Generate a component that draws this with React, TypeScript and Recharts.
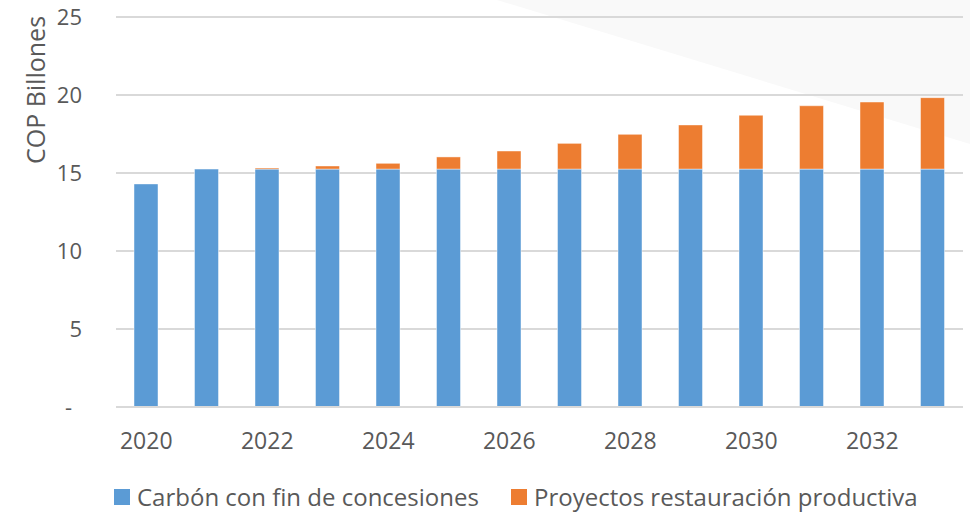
import React from 'react';
import { BarChart, Bar, XAxis, YAxis, CartesianGrid } from 'recharts';

const years = ['2020', '2021', '2022', '2023', '2024', '2025', '2026', '2027', '2028', '2029', '2030', '2031', '2032', '2033'];
const carbon = [14.3, 15.25, 15.25, 15.25, 15.25, 15.25, 15.25, 15.25, 15.25, 15.25, 15.25, 15.25, 15.25, 15.25];
const proyectos = [0, 0, 0.07, 0.2, 0.37, 0.78, 1.16, 1.65, 2.23, 2.83, 3.45, 4.06, 4.3, 4.58];
const yTicks = [0, 5, 10, 15, 20, 25];
const seriesNames = ['Carbón con fin de concesiones', 'Proyectos restauración productiva'];
const seriesColors = ['#5B9BD5', '#ED7D31'];
const yLabel = 'COP Billones';

const data = years.map((y, i) => ({ year: y, carbon: carbon[i], proyectos: proyectos[i] }));

const FONT = '"Open Sans", sans-serif';
const TXT = '#595959';

const YTick = (props: any) => {
  const { x, y, payload } = props;
  const v = payload.value;
  return (
    <text x={v === 0 ? x - 10 : x} y={y} dy="0.35em" textAnchor="end" fill={TXT} fontSize={22} fontFamily={FONT}>
      {v === 0 ? '-' : v}
    </text>
  );
};

const YLabel = (props: any) => {
  const vb = props.viewBox || { x: 0, y: 0 };
  const cx = vb.x + 35;
  const cy = vb.y + 73;
  return (
    <text x={cx} y={cy} transform={`rotate(-90 ${cx} ${cy})`} textAnchor="middle" dominantBaseline="central" fill={TXT} fontSize={25} fontFamily={FONT}>
      {yLabel}
    </text>
  );
};

export default function App() {
  return (
    <div style={{ position: 'absolute', left: 0, top: 0, width: 970, height: 512, background: '#fff', overflow: 'hidden' }}>
      <svg width={970} height={512} style={{ position: 'absolute', left: 0, top: 0 }}>
        <polygon points="497,0 970,0 970,144" fill="#F9F9F9" />
      </svg>
      <div style={{ position: 'absolute', left: 0, top: 0 }}>
        <BarChart width={970} height={512} data={data} margin={{ top: 17, right: 7, left: 0, bottom: 75 }} barSize={24}>
          <CartesianGrid vertical={false} stroke="#D9D9D9" strokeWidth={2} />
          <XAxis
            dataKey="year"
            interval={1}
            height={30}
            tickLine={false}
            tickSize={0}
            tickMargin={26}
            axisLine={{ stroke: '#D9D9D9', strokeWidth: 2 }}
            tick={{ fill: TXT, fontSize: 23, fontFamily: FONT }}
          />
          <YAxis
            width={116}
            domain={[0, 25]}
            ticks={yTicks}
            axisLine={false}
            tickLine={false}
            tickSize={0}
            tickMargin={34}
            tick={<YTick />}
            label={<YLabel />}
          />
          <Bar dataKey="carbon" stackId="a" name={seriesNames[0]} fill={seriesColors[0]} stroke="#FFFFFF" strokeOpacity={0.45} strokeWidth={1} isAnimationActive={false} />
          <Bar dataKey="proyectos" stackId="a" name={seriesNames[1]} fill={seriesColors[1]} stroke="#FFFFFF" strokeOpacity={0.45} strokeWidth={1} isAnimationActive={false} />
        </BarChart>
      </div>
      {seriesNames.map((n, i) => (
        <div
          key={n}
          style={{ position: 'absolute', left: i === 0 ? 114 : 511, top: 480, display: 'flex', alignItems: 'center', fontFamily: FONT, fontSize: 24, color: TXT, whiteSpace: 'nowrap' }}
        >
          <span style={{ display: 'inline-block', width: 16, height: 16, background: seriesColors[i], marginRight: 7 }} />
          <span>{n}</span>
        </div>
      ))}
    </div>
  );
}
